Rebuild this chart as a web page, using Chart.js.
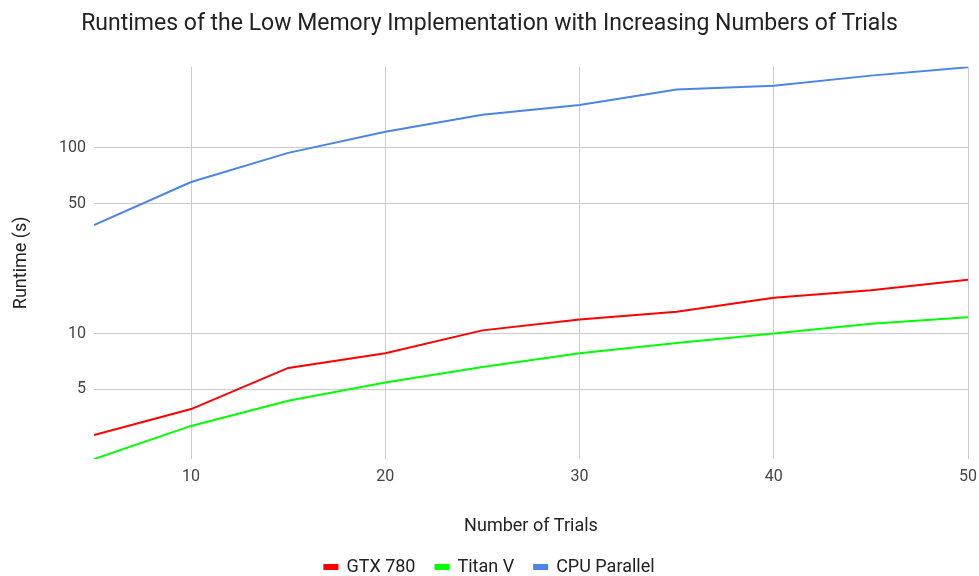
<!DOCTYPE html>
<html>
<head>
<meta charset="utf-8">
<script src="https://cdn.jsdelivr.net/npm/chart.js@4"></script>
<style>
  html, body { margin: 0; padding: 0; background: #ffffff; }
  #wrap { width: 979px; height: 576px; }
</style>
</head>
<body>
<div id="wrap"><canvas id="c" width="979" height="576"></canvas></div>
<script>
// Runtime (seconds) per number of trials
const trials = [5, 10, 15, 20, 25, 30, 35, 40, 45, 50];
const gtx780 = [2.84, 3.92, 6.53, 7.83, 10.4, 11.9, 13.1, 15.6, 17.1, 19.5];
const titanV = [2.11, 3.18, 4.35, 5.45, 6.6, 7.83, 8.9, 10.0, 11.3, 12.25];
const cpuParallel = [38.4, 65.5, 94, 122, 151, 170, 206, 216, 245, 272];

// Tick labels
const xTicks = [10, 20, 30, 40, 50];
const yTicks = [5, 10, 50, 100];

const FONT = "Roboto, 'Noto Sans', sans-serif";
const pairs = (ys) => trials.map((t, i) => ({ x: t, y: ys[i] }));

const series = (label, ys, color) => ({
  label,
  data: pairs(ys),
  borderColor: color,
  backgroundColor: color,
  borderWidth: 2,
  pointRadius: 0,
  pointHoverRadius: 0,
  tension: 0,
  fill: false
});

new Chart(document.getElementById('c'), {
  type: 'line',
  data: {
    datasets: [
      series('GTX 780', gtx780, '#ff0000'),
      series('Titan V', titanV, '#00ff00'),
      series('CPU Parallel', cpuParallel, '#4a86e8')
    ]
  },
  options: {
    responsive: false,
    animation: false,
    devicePixelRatio: 1,
    layout: { padding: { left: 11, right: 11, top: 0, bottom: -10 } },
    plugins: {
      title: {
        display: true,
        text: 'Runtimes of the Low Memory Implementation with Increasing Numbers of Trials',
        color: '#222222',
        font: { family: FONT, size: 23, weight: 'normal' },
        padding: { top: 10, bottom: 29 }
      },
      legend: {
        display: true,
        position: 'bottom',
        labels: {
          color: '#222222',
          font: { family: FONT, size: 18 },
          boxWidth: 13,
          boxHeight: 4,
          padding: 20
        }
      },
      tooltip: { enabled: false }
    },
    scales: {
      x: {
        type: 'linear',
        min: 5,
        max: 50,
        afterBuildTicks: (s) => { s.ticks = xTicks.map(v => ({ value: v })); },
        afterFit: (s) => { s.height = 79; s.paddingLeft = 0; s.paddingRight = 0; },
        grid: { color: '#cccccc', drawTicks: false },
        border: { display: false },
        ticks: {
          color: '#444444',
          font: { family: FONT, size: 16 },
          padding: 8,
          maxRotation: 0,
          callback: (v) => String(v)
        },
        title: {
          display: true,
          text: 'Number of Trials',
          color: '#222222',
          font: { family: FONT, size: 18 },
          padding: { top: 0, bottom: 1 }
        }
      },
      y: {
        type: 'logarithmic',
        min: 2.11,
        max: 274,
        afterBuildTicks: (s) => { s.ticks = yTicks.map(v => ({ value: v })); },
        afterFit: (s) => { s.width = 83; s.paddingTop = 0; s.paddingBottom = 0; },
        grid: { color: '#cccccc', drawTicks: false },
        border: { display: false },
        ticks: {
          color: '#444444',
          font: { family: FONT, size: 16 },
          padding: 8,
          callback: (v) => String(v)
        },
        title: {
          display: true,
          text: 'Runtime (s)',
          color: '#222222',
          font: { family: FONT, size: 18 },
          padding: { top: 0, bottom: 0 }
        }
      }
    }
  }
});
</script>
</body>
</html>
